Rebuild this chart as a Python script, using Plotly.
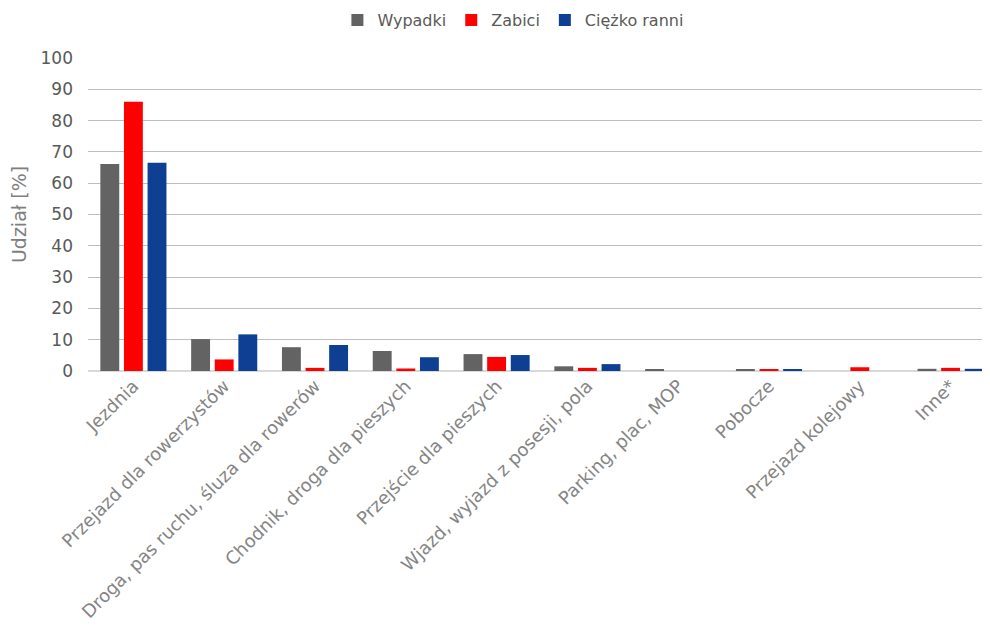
import plotly.graph_objects as go

categories = ["Jezdnia", "Przejazd dla rowerzystów", "Droga, pas ruchu, śluza dla rowerów",
              "Chodnik, droga dla pieszych", "Przejście dla pieszych", "Wjazd, wyjazd z posesji, pola",
              "Parking, plac, MOP", "Pobocze", "Przejazd kolejowy", "Inne*"]
wypadki = [66.1, 10.2, 7.6, 6.4, 5.4, 1.5, 0.4, 0.4, 0.0, 0.7]
zabici = [86.0, 3.7, 1.0, 0.8, 4.5, 1.0, 0.0, 0.4, 1.2, 1.0]
ciezko_ranni = [66.5, 11.7, 8.3, 4.4, 5.1, 2.2, 0.0, 0.4, 0.0, 0.7]
y_ticks = [0, 10, 20, 30, 40, 50, 60, 70, 80, 90, 100]

FONT = "DejaVu Sans, Verdana, sans-serif"

fig = go.Figure()
for name, vals, col in [("Wypadki", wypadki, "#636363"),
                        ("Zabici", zabici, "#FF0000"),
                        ("Ciężko ranni", ciezko_ranni, "#0E3F92")]:
    fig.add_trace(go.Bar(x=categories, y=vals, name=name,
                         marker=dict(color=col, line=dict(width=0))))

fig.update_layout(
    width=990, height=635,
    margin=dict(l=80, r=2, t=50, b=272),
    paper_bgcolor="white", plot_bgcolor="white",
    barmode="group", bargap=0.22, bargroupgap=0.2,
    font=dict(family=FONT, color="#595959"),
    legend=dict(orientation="h", xref="container", x=0.51, xanchor="center",
                yref="container", y=0.981, yanchor="middle",
                font=dict(size=16, color="#595959"), itemwidth=30,
                traceorder="normal"),
    xaxis=dict(range=[-0.5, 9.5], tickangle=-45, automargin=False,
               tickfont=dict(size=18, color="#858585"), showgrid=False,
               showline=False, ticks=""),
    yaxis=dict(range=[0, 100], tickvals=y_ticks, automargin=False,
               tickfont=dict(size=17, color="#595959"), showgrid=True,
               gridcolor="#BFBFBF", gridwidth=1, zeroline=True,
               zerolinecolor="#D9D9D9", zerolinewidth=2, ticks="",
               ticklabelstandoff=14,
               title=dict(text="Udział [%]", font=dict(size=19, color="#7f7f7f"), standoff=8)),
)

fig.write_html("out.html")
